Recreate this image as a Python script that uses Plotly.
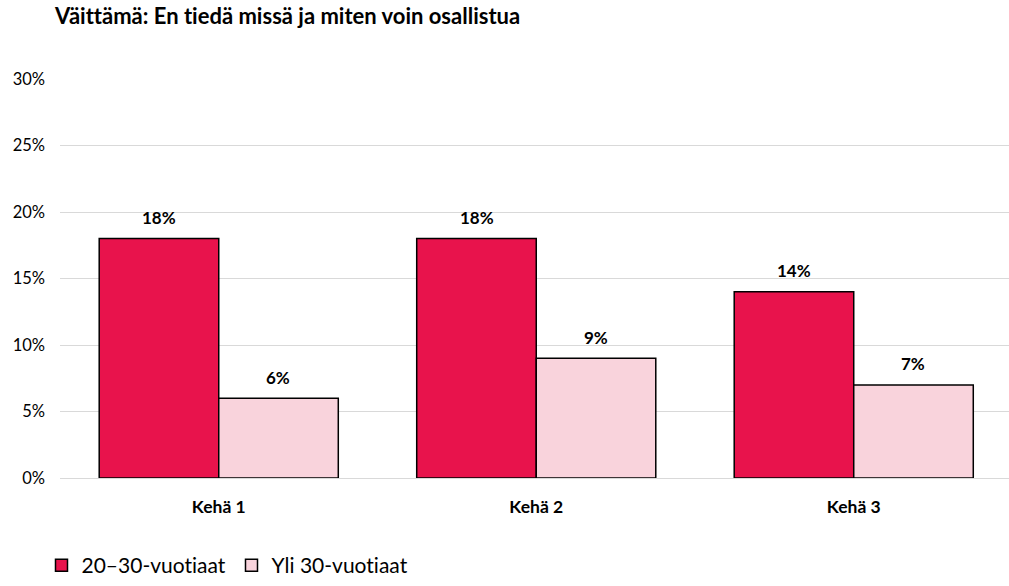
import plotly.graph_objects as go

categories = ["Kehä 1", "Kehä 2", "Kehä 3"]
series_names = ["20–30-vuotiaat", "Yli 30-vuotiaat"]
young = [18, 18, 14]
older = [6, 9, 7]
colors = ["#E8134C", "#F9D3DC"]
ytick_vals = [0, 5, 10, 15, 20, 25, 30]
ytick_text = ["0%", "5%", "10%", "15%", "20%", "25%", "30%"]

FONT = "Lato"

fig = go.Figure()
for name, vals, col in zip(series_names, [young, older], colors):
    fig.add_trace(go.Bar(
        x=categories, y=vals, name=name,
        marker=dict(color=col, line=dict(color="#000000", width=1.5)),
    ))

# data labels
for vals, shift in [(young, -59.5), (older, 59.5)]:
    for c, v in zip(categories, vals):
        fig.add_annotation(x=c, y=v, text=f"<b>{v}%</b>", showarrow=False,
                           xshift=shift, yshift=21, yanchor="middle",
                           font=dict(family=FONT, size=17, color="#000000"))

fig.update_layout(
    width=1009, height=586,
    margin=dict(l=60, r=0, t=79, b=102),
    plot_bgcolor="white", paper_bgcolor="white",
    barmode="group", bargap=0.247, bargroupgap=0,
    title=dict(text="<b>Väittämä: En tiedä missä ja miten voin osallistua</b>",
               x=55/1009, xanchor="left", y=1-16/586, yanchor="middle",
               font=dict(family=FONT, size=22, color="#000000")),
    font=dict(family=FONT, color="#000000"),
    legend=dict(orientation="h", x=-0.0195, xanchor="left", y=-0.22, yanchor="middle",
                font=dict(family=FONT, size=21, color="#000000"),
                itemwidth=30, entrywidth=145, traceorder="normal"),
    showlegend=True,
)
fig.update_yaxes(range=[0, 30], tickvals=ytick_vals, ticktext=ytick_text,
                 showgrid=True, gridcolor="#D9D9D9", gridwidth=1.3,
                 zeroline=True, zerolinecolor="#D9D9D9", zerolinewidth=1.3,
                 showline=False, ticks="", ticklabelstandoff=14,
                 tickfont=dict(family=FONT, size=16.5, color="#000000"))
fig.update_xaxes(showline=False, ticks="", range=[-0.5, 2.489],
                 ticklabelstandoff=16,
                 tickprefix="<b>", ticksuffix="</b>",
                 tickfont=dict(family=FONT, size=17.5, color="#000000"))

post = ("document.body.style.margin='0';"
        "var s=document.createElement('style');"
        "s.textContent='text{font-variant-ligatures:none;font-feature-settings:\"liga\" 0,\"clig\" 0;}';"
        "document.head.appendChild(s);")
fig.write_html("out.html", post_script=post, config={"displayModeBar": False})
